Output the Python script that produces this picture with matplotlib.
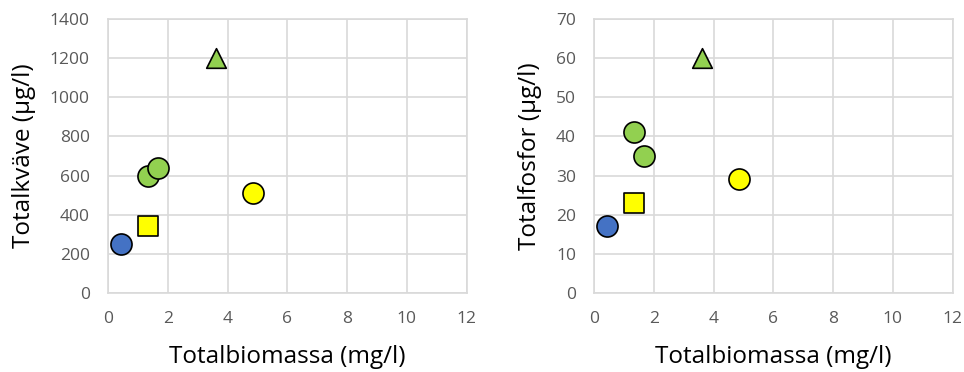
import matplotlib
matplotlib.use("Agg")
import matplotlib.pyplot as plt

# data
biomass = [0.43, 1.35, 1.34, 1.68, 3.6, 4.85]
nitrogen = [250, 340, 600, 640, 1200, 510]
phosphorus = [17, 23, 41, 35, 60, 29]
markers = ["o", "s", "o", "o", "^", "o"]
colors = ["#4472C4", "#FFFF00", "#92D050", "#92D050", "#92D050", "#FFFF00"]

x_label = "Totalbiomassa (mg/l)"
panels = [
    (nitrogen, "Totalkväve (µg/l)", 1400, 200),
    (phosphorus, "Totalfosfor (µg/l)", 70, 10),
]

plt.rcParams["font.family"] = ["Open Sans", "DejaVu Sans"]

fig = plt.figure(figsize=(9.64, 3.72), dpi=100)
lefts = [0.112, 0.6162]

for left, (yvals, ylabel, ymax, ystep) in zip(lefts, panels):
    ax = fig.add_axes([left, 0.2124, 0.372, 0.7366])
    for x, y, m, c in zip(biomass, yvals, markers, colors):
        size = 230 if m == "o" else 200
        ax.scatter(x, y, marker=m, s=size, c=c, edgecolors="black",
                   linewidths=1.2, zorder=3)
    ax.set_xlim(0, 12)
    ax.set_ylim(0, ymax)
    ax.set_xticks(range(0, 13, 2))
    ax.set_yticks(range(0, ymax + 1, ystep))
    ax.grid(True, color="#D9D9D9", linewidth=1.2)
    ax.set_axisbelow(True)
    for sp in ax.spines.values():
        sp.set_color("#D9D9D9")
        sp.set_linewidth(1.2)
    ax.tick_params(length=0, labelsize=12.5, labelcolor="#595959")
    ax.tick_params(axis="y", pad=13)
    ax.tick_params(axis="x", pad=13)
    ax.set_xlabel(x_label, fontsize=17.5, labelpad=13)
    ax.set_ylabel(ylabel, fontsize=17.5, labelpad=10)

fig.savefig("out.png", dpi=100)
